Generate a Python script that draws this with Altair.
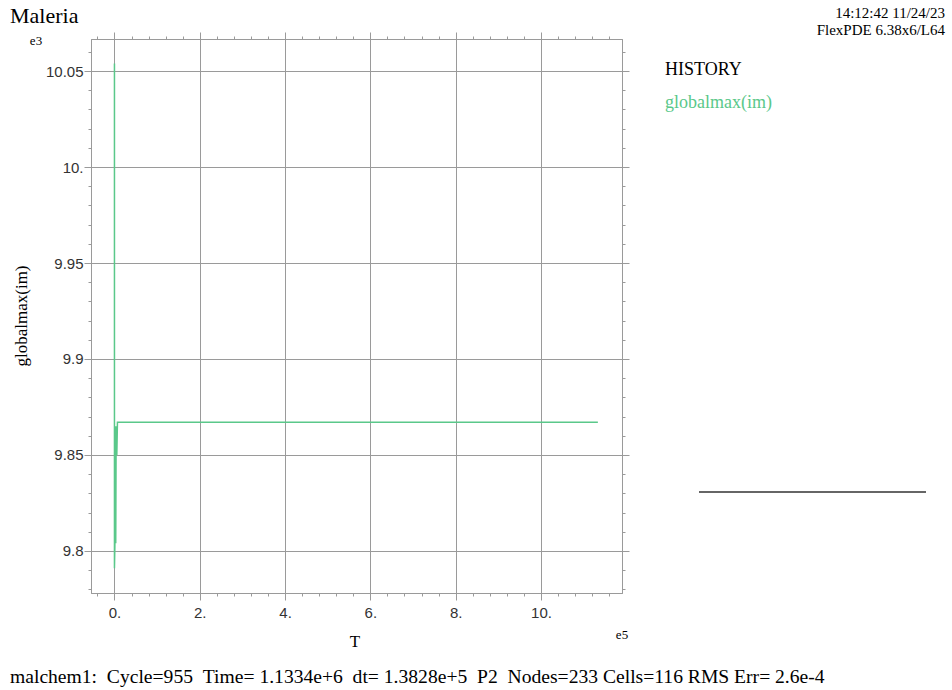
import altair as alt
import pandas as pd

# ---- data (T in units of e5, globalmax(im) in units of e3) ----
time_e5 = [0.0, 0.0, 0.01, 0.02, 0.03, 0.04, 0.055, 0.07, 11.334]
value_e3 = [10.054, 9.791, 9.803, 9.865, 9.804, 9.865, 9.850, 9.867, 9.867]

x_major = [0, 2, 4, 6, 8, 10]
x_minor = [-0.4, 0.4, 0.8, 1.2, 1.6, 2.4, 2.8, 3.2, 3.6, 4.4, 4.8, 5.2, 5.6,
           6.4, 6.8, 7.2, 7.6, 8.4, 8.8, 9.2, 9.6, 10.4, 10.8, 11.2, 11.6]
y_major = [9.8, 9.85, 9.9, 9.95, 10.0, 10.05]
y_minor = [9.78, 9.79, 9.81, 9.82, 9.83, 9.84, 9.86, 9.87, 9.88, 9.89,
           9.91, 9.92, 9.93, 9.94, 9.96, 9.97, 9.98, 9.99, 10.01, 10.02,
           10.03, 10.04, 10.06]

title_text = "Maleria"
stamp1 = "14:12:42 11/24/23"
stamp2 = "FlexPDE 6.38x6/L64"
legend_head = "HISTORY"
legend_item = "globalmax(im)"
y_title = "globalmax(im)"
x_title = "T"
footer = ("malchem1:  Cycle=955  Time= 1.1334e+6  dt= 1.3828e+5  P2  "
          "Nodes=233 Cells=116 RMS Err= 2.6e-4")

df = pd.DataFrame({"idx": list(range(len(time_e5))), "T": time_e5, "v": value_e3})

W, H = 531, 554
GRID = "#9a9a9a"
GREEN = "#5ac88a"
SERIF = "Liberation Serif"
SANS = "Liberation Sans"

xs = alt.Scale(domain=[-0.55, 11.9], nice=False, zero=False)
ys = alt.Scale(domain=[9.7781, 10.0667], nice=False, zero=False)

y_label_expr = ("indexof(format(datum.value,'.2~f'),'.') < 0 ? "
                "format(datum.value,'.2~f') + '.' : format(datum.value,'.2~f')")
x_label_expr = "format(datum.value,'d') + '.'"

common = dict(domainColor=GRID, tickColor=GRID, gridColor=GRID, title=None,
              domainWidth=1, tickWidth=1, gridWidth=1)


def axis_major_bottom():
    return alt.Axis(orient="bottom", values=x_major, tickSize=7, grid=True,
                    labelExpr=x_label_expr, labelFont=SANS, labelFontSize=15,
                    labelColor="#333", labelPadding=5, **common)


def axis_major_left():
    return alt.Axis(orient="left", values=y_major, tickSize=7, grid=True,
                    labelExpr=y_label_expr, labelFont=SANS, labelFontSize=15,
                    labelColor="#333", labelPadding=1, **common)


def axis_plain(orient, vals, size):
    return alt.Axis(orient=orient, values=vals, tickSize=size, grid=False,
                    labels=False, **common)


line = alt.Chart(df).mark_line(color=GREEN, strokeWidth=1.5, clip=True).encode(
    x=alt.X("T:Q", scale=xs, axis=axis_major_bottom()),
    y=alt.Y("v:Q", scale=ys, axis=axis_major_left()),
    order="idx:O",
)


def ghost(xaxis, yaxis):
    return alt.Chart(df).mark_line(strokeOpacity=0).encode(
        x=alt.X("T:Q", scale=xs, axis=xaxis),
        y=alt.Y("v:Q", scale=ys, axis=yaxis),
        order="idx:O",
    )


g_top_major = ghost(axis_plain("top", x_major, 7), axis_plain("right", y_major, 7))
g_bot_minor = ghost(axis_plain("bottom", x_minor, 3), axis_plain("left", y_minor, 3))
g_top_minor = ghost(axis_plain("top", x_minor, 3), axis_plain("right", y_minor, 3))


def text_layer(label, x, y, size, color="black", align="left", angle=0,
               baseline="alphabetic", font=SERIF):
    d = pd.DataFrame({"label": [label.replace("  ", "\u00a0\u00a0")]})
    return alt.Chart(d).mark_text(
        align=align, baseline=baseline, fontSize=size, font=font, color=color,
        angle=angle,
    ).encode(x=alt.value(x), y=alt.value(y), text="label:N")


# positions are relative to the plot area origin (91, 39)
texts = [
    text_layer(title_text, -81, -16, 22),
    text_layer("e3", -55, 6, 13, align="center"),
    text_layer(stamp1, 854, -21, 15, align="right"),
    text_layer(stamp2, 854, -4, 15, align="right"),
    text_layer(legend_head, 574, 36, 18),
    text_layer(legend_item, 574, 69, 18, color=GREEN),
    text_layer(y_title, -69, 277, 17, align="center", angle=270,
               baseline="middle"),
    text_layer(x_title, 264, 608, 17, align="center"),
    text_layer("e5", 531, 600, 13, align="center"),
    text_layer(footer, -81, 644, 19.6),
]

legend_rule = alt.Chart(pd.DataFrame({"k": [0]})).mark_rule(
    color="#666", strokeWidth=2).encode(
    x=alt.value(608), x2=alt.value(835), y=alt.value(453))

chart = alt.layer(line, g_top_major, g_bot_minor, g_top_minor, legend_rule,
                  *texts).resolve_axis(
    x="independent", y="independent"
).properties(
    width=W, height=H,
    autosize=alt.AutoSizeParams(type="none"),
    padding={"left": 91, "top": 39, "right": 330, "bottom": 97},
    background="white",
).configure_view(stroke=None)

chart.save("out.html", embed_options={"renderer": "svg", "actions": False})
